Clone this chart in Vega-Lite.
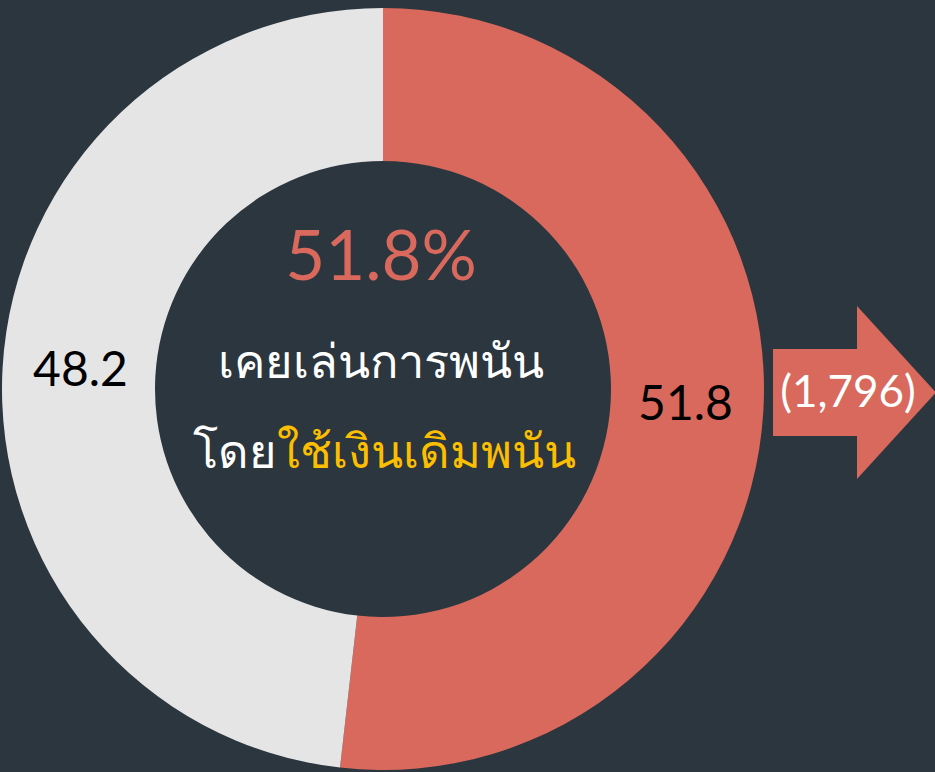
{
  "$schema": "https://vega.github.io/schema/vega-lite/v6.json",
  "width": 935,
  "height": 772,
  "autosize": "none",
  "padding": 0,
  "background": "#2c363e",
  "config": {"view": {"stroke": null}, "font": "Lato", "text": {"font": "Lato"}},
  "data": {
    "values": [
      {"group": "เคยเล่นการพนันโดยใช้เงินเดิมพนัน", "value": 51.8},
      {"group": "ไม่เคย", "value": 48.2}
    ]
  },
  "layer": [
    {
      "mark": {"type": "arc", "radius": 381, "radius2": 228},
      "encoding": {
        "x": {"datum": 0, "type": "quantitative", "scale": {"domain": [-1.0052, 1.4488], "nice": false, "zero": false}, "axis": null},
        "y": {"datum": 0, "type": "quantitative", "scale": {"domain": [-1.0052, 1.021], "nice": false, "zero": false}, "axis": null},
        "theta": {"field": "value", "type": "quantitative", "stack": true},
        "order": {"field": "value", "sort": "descending"},
        "color": {
          "field": "group",
          "type": "nominal",
          "scale": {"domain": ["เคยเล่นการพนันโดยใช้เงินเดิมพนัน", "ไม่เคย"], "range": ["#d9695c", "#e5e5e5"]},
          "legend": null
        }
      }
    },
    {
      "mark": {"type": "text", "radius": 303, "fontSize": 48, "color": "#000000", "font": "Lato"},
      "encoding": {
        "x": {"datum": 0, "type": "quantitative"},
        "y": {"datum": 0, "type": "quantitative"},
        "theta": {"field": "value", "type": "quantitative", "stack": true},
        "order": {"field": "value", "sort": "descending"},
        "detail": {"field": "group"},
        "text": {"field": "value", "type": "quantitative", "format": ".1f"}
      }
    },
    {
      "data": {"values": [{"label": "51.8%"}]},
      "mark": {"type": "text", "fontSize": 69, "color": "#d9695c", "baseline": "alphabetic", "align": "center", "font": "Lato"},
      "encoding": {
        "x": {"datum": -0.005, "type": "quantitative"},
        "y": {"datum": 0.286, "type": "quantitative"},
        "text": {"field": "label"}
      }
    },
    {
      "data": {"values": [{"label": "เคยเล่นการพนัน"}]},
      "mark": {"type": "text", "fontSize": 47, "color": "#ffffff", "baseline": "alphabetic", "align": "center", "font": "Lato"},
      "encoding": {
        "x": {"datum": -0.004, "type": "quantitative"},
        "y": {"datum": 0.0289, "type": "quantitative"},
        "text": {"field": "label"}
      }
    },
    {
      "data": {"values": [{"label": "โดย"}]},
      "mark": {"type": "text", "fontSize": 47, "color": "#ffffff", "baseline": "alphabetic", "align": "right", "font": "Lato"},
      "encoding": {
        "x": {"datum": -0.278, "type": "quantitative"},
        "y": {"datum": -0.2073, "type": "quantitative"},
        "text": {"field": "label"}
      }
    },
    {
      "data": {"values": [{"label": "ใช้เงินเดิมพนัน"}]},
      "mark": {"type": "text", "fontSize": 47, "color": "#fbbf00", "baseline": "alphabetic", "align": "left", "font": "Lato"},
      "encoding": {
        "x": {"datum": -0.278, "type": "quantitative"},
        "y": {"datum": -0.2073, "type": "quantitative"},
        "text": {"field": "label"}
      }
    },
    {
      "data": {"values": [{"label": "(1,796)"}]},
      "mark": {
        "type": "point",
        "shape": "M-0.942,-0.503 L0.029,-0.503 L0.029,-1 L0.942,0 L0.029,1 L0.029,0.503 L-0.942,0.503 Z",
        "size": 29929,
        "filled": true,
        "opacity": 1,
        "color": "#d9695c",
        "strokeWidth": 0
      },
      "encoding": {
        "x": {"datum": 1.2375, "type": "quantitative"},
        "y": {"datum": -0.0092, "type": "quantitative"}
      }
    },
    {
      "data": {"values": [{"label": "(1,796)"}]},
      "mark": {"type": "text", "fontSize": 44, "color": "#ffffff", "baseline": "alphabetic", "align": "center", "font": "Lato"},
      "encoding": {
        "x": {"datum": 1.2205, "type": "quantitative"},
        "y": {"datum": -0.0472, "type": "quantitative"},
        "text": {"field": "label"}
      }
    }
  ]
}
